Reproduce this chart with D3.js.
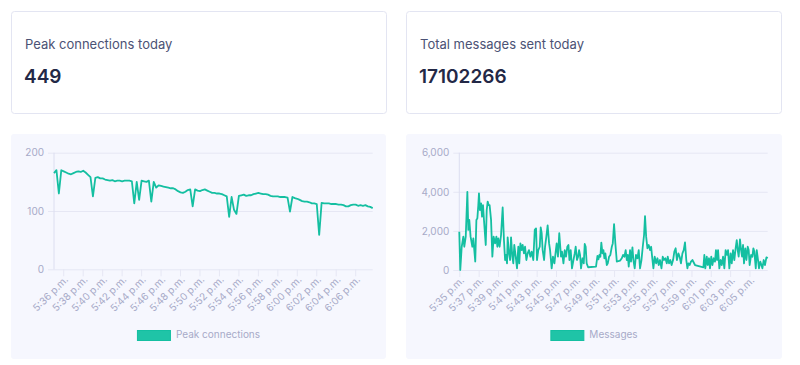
<!DOCTYPE html>
<html>
<head>
<meta charset="utf-8">
<script src="https://cdn.jsdelivr.net/npm/d3@7"></script>
<style>
  body { margin: 0; background: #fff; font-family: Inter, "DejaVu Sans", sans-serif; }
</style>
</head>
<body>
<svg id="chart" width="800" height="365"></svg>
<script>
// stat cards
const statTitles = ['Peak connections today', 'Total messages sent today'];
const statValues = ['449', '17102266'];

// peak connections, one sample every 15 s from 5:35:03 p.m.
const connStart = '17:35:03';
const connStep = 15;
const connValues = [
  165,170,130,170,168,166,164,163,165,167,168,167,169,166,162,158,
  125,157,158,156,156,154,153,152,153,151,152,152,151,152,152,152,
  151,113,150,119,152,151,150,152,116,150,140,144,143,142,141,140,
  139,139,137,134,132,131,133,136,137,108,137,135,134,136,137,135,
  133,131,131,130,130,129,127,125,90,124,102,95,126,127,128,126,
  127,127,129,130,131,130,129,129,128,126,125,125,125,124,124,124,
  123,99,124,122,121,119,117,116,116,115,113,113,112,59,114,113,
  113,113,112,112,112,111,111,110,108,108,110,111,111,109,110,109,
  110,108,107,105
];
const connTicks = [0, 100, 200];

// messages: [seconds after 5:35:00 p.m., messages]
const msgStart = '17:35:00';
const msgPoints = [
  [0,1960],[6,0],[15,1190],[25,1705],[31,1190],[40,1705],[50,4000],[56,2050],[62,2560],[70,1705],
  [81,1190],[87,1620],[93,1020],[99,430],[106,2560],[112,2640],[118,3320],[122,3920],[128,3070],[135,3410],
  [141,2730],[147,3320],[153,2560],[164,1280],[170,3070],[176,3500],[182,3320],[188,3320],[197,2560],[205,680],
  [213,1705],[222,1360],[230,1705],[236,1190],[242,1620],[250,1190],[259,1790],[269,3200],[277,1530],[284,510],
  [290,770],[296,340],[300,1670],[308,850],[315,510],[321,1670],[329,680],[335,340],[341,1280],[350,680],
  [358,85],[366,1190],[372,340],[379,1360],[387,1020],[393,1280],[401,850],[408,1190],[416,510],[424,850],
  [432,1020],[441,680],[449,940],[459,510],[468,2050],[476,2130],[482,510],[490,1020],[499,1190],[505,2180],
  [511,1880],[517,1020],[526,510],[532,1190],[540,1705],[548,2280],[557,1360],[563,1020],[573,85],[581,680],
  [590,340],[598,940],[604,1360],[612,680],[620,1880],[631,680],[637,940],[646,340],[654,1020],[662,680],
  [670,1190],[677,1280],[683,510],[691,1020],[699,85],[708,510],[716,850],[722,1190],[730,510],[737,680],
  [743,1020],[749,770],[755,85],[764,600],[772,340],[778,1330],[784,1190],[790,340],[799,140],[848,170],
  [857,720],[863,545],[869,770],[875,680],[881,1400],[888,850],[894,1020],[900,600],[906,850],[915,255],
  [921,340],[929,680],[937,770],[946,1190],[952,1360],[960,2350],[968,1360],[977,430],[987,460],[997,480],
  [1008,600],[1016,770],[1024,680],[1032,1020],[1039,510],[1045,770],[1051,170],[1059,1020],[1065,430],[1074,1160],
  [1080,510],[1088,85],[1096,770],[1105,600],[1113,1020],[1121,85],[1130,510],[1138,1190],[1146,1790],[1152,2760],
  [1159,1705],[1167,1110],[1175,1280],[1183,1020],[1190,1190],[1196,680],[1204,85],[1212,680],[1221,340],[1229,600],
  [1237,255],[1245,510],[1254,85],[1262,680],[1270,510],[1278,600],[1287,340],[1293,680],[1301,340],[1309,510],
  [1317,255],[1326,510],[1334,940],[1342,1110],[1350,510],[1359,850],[1367,680],[1375,340],[1384,850],[1392,1020],
  [1400,1415],[1408,510],[1415,85],[1421,340],[1429,255],[1437,430],[1446,510],[1462,255],[1514,140],[1520,770],
  [1526,85],[1535,680],[1541,255],[1549,600],[1555,85],[1563,680],[1570,255],[1578,600],[1586,430],[1592,1020],
  [1599,510],[1605,1020],[1613,85],[1621,510],[1628,255],[1636,680],[1644,85],[1652,1020],[1661,770],[1667,1020],
  [1675,85],[1683,850],[1690,340],[1698,1020],[1706,510],[1714,1110],[1721,1530],[1727,1020],[1733,680],[1741,1570],
  [1748,1020],[1754,680],[1760,1280],[1766,340],[1774,1110],[1781,510],[1789,1190],[1795,1020],[1801,255],[1810,770],
  [1818,680],[1824,1110],[1830,940],[1839,85],[1845,1020],[1853,510],[1859,85],[1867,430],[1874,255],[1880,85],
  [1888,510],[1896,255],[1905,650],[1913,600]
];
const msgTicks = [0, 2000, 4000, 6000];

const seriesNames = ['Peak connections', 'Messages'];

const teal = '#14bfa1';
const tickColor = '#a7aac8';
const gridColor = '#e6e7f4';

const svg = d3.select('#chart');
const parseT = d3.timeParse('%H:%M:%S');
const timeLabel = d3.timeFormat('%-I:%M');

// top stat cards
const cards = [{x: 11.5, y: 11.5}, {x: 406.5, y: 11.5}];
cards.forEach((c, i) => {
  svg.append('rect')
    .attr('x', c.x).attr('y', c.y)
    .attr('width', 375).attr('height', 102)
    .attr('rx', 3)
    .attr('fill', '#fff')
    .attr('stroke', '#e3e5f2');
  svg.append('text')
    .attr('x', c.x + 13.5).attr('y', 49)
    .attr('font-size', 13)
    .attr('fill', '#4b5275')
    .text(statTitles[i]);
  svg.append('text')
    .attr('x', c.x + 12.5).attr('y', 83)
    .attr('font-size', 19)
    .attr('font-weight', 600)
    .attr('fill', '#232846')
    .text(statValues[i]);
});

function drawChart(panel, plot, data, yTicks, yFormat, name) {
  svg.append('rect')
    .attr('x', panel.x).attr('y', panel.y)
    .attr('width', panel.w).attr('height', panel.h)
    .attr('rx', 3)
    .attr('fill', '#f6f7fe');

  const g = svg.append('g').attr('transform', 'translate(' + plot.x + ',' + plot.y + ')');
  const w = plot.w, h = plot.h;

  const x = d3.scaleTime()
    .domain(d3.extent(data, d => d.t))
    .range([0, w]);
  const y = d3.scaleLinear()
    .domain([0, yTicks[yTicks.length - 1]])
    .range([h, 0]);

  // y grid + labels
  const yAxis = g.append('g')
    .attr('transform', 'translate(-6,0)')
    .call(d3.axisLeft(y).tickValues(yTicks).tickSizeInner(-(w + 6)).tickSizeOuter(0)
      .tickPadding(4).tickFormat(yFormat));
  yAxis.select('.domain').remove();
  yAxis.selectAll('line').attr('stroke', gridColor);
  yAxis.selectAll('text')
    .attr('fill', tickColor)
    .attr('font-size', 10)
    .attr('font-family', 'Inter, sans-serif');

  // y axis line
  g.append('line')
    .attr('x1', 0).attr('x2', 0)
    .attr('y1', 0).attr('y2', h)
    .attr('stroke', '#dcdef0');

  // x axis, one tick every 2 minutes
  const [t0, t1] = x.domain();
  const xTicks = d3.timeMinute.range(d3.timeMinute.ceil(t0), t1, 2);
  const xAxis = g.append('g')
    .attr('transform', 'translate(0,' + h + ')')
    .call(d3.axisBottom(x).tickValues(xTicks).tickSize(7).tickSizeOuter(0)
      .tickFormat(d => timeLabel(d) + ' p.m.'));
  xAxis.select('.domain').remove();
  xAxis.selectAll('line').attr('stroke', gridColor);
  xAxis.selectAll('text')
    .attr('fill', tickColor)
    .attr('font-size', 10)
    .attr('font-family', 'Inter, sans-serif')
    .attr('text-anchor', 'end')
    .attr('y', 0).attr('dy', 0)
    .attr('transform', 'translate(5,11) rotate(-45)');

  // series line
  g.append('path')
    .datum(data)
    .attr('fill', 'none')
    .attr('stroke', teal)
    .attr('stroke-width', 1.8)
    .attr('stroke-linejoin', 'round')
    .attr('d', d3.line().x(d => x(d.t)).y(d => y(d.v)));

  // legend, centred in the panel
  const lg = svg.append('g');
  const lt = lg.append('text')
    .attr('x', 39).attr('y', 5.5)
    .attr('dominant-baseline', 'middle')
    .attr('font-size', 10)
    .attr('fill', tickColor)
    .text(name);
  lg.append('rect')
    .attr('x', 0.5).attr('y', 0.5)
    .attr('width', 33).attr('height', 10)
    .attr('fill', '#1fc4a7')
    .attr('stroke', teal);
  const lw = 39 + lt.node().getComputedTextLength();
  lg.attr('transform', 'translate(' + (panel.x + (panel.w - lw) / 2) + ',330)');
}

const connT0 = parseT(connStart);
const connData = connValues.map((v, i) => ({t: d3.timeSecond.offset(connT0, i * connStep), v: v}));
const msgT0 = parseT(msgStart);
const msgData = msgPoints.map(p => ({t: d3.timeSecond.offset(msgT0, p[0]), v: p[1]}));

drawChart({x: 11, y: 134, w: 375, h: 225}, {x: 54, y: 152.7, w: 318.7, h: 116.6},
  connData, connTicks, d3.format('d'), seriesNames[0]);
drawChart({x: 406, y: 134, w: 376, h: 225}, {x: 459.3, y: 152.7, w: 308.4, h: 117.3},
  msgData, msgTicks, d3.format(','), seriesNames[1]);
</script>
</body>
</html>
